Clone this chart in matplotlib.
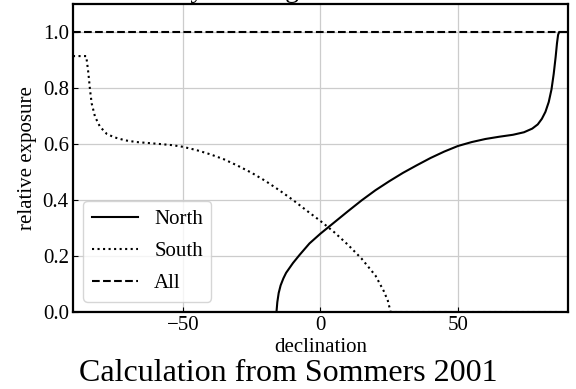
import numpy as np
import matplotlib
matplotlib.use("Agg")
import matplotlib.pyplot as plt

plt.rcParams["font.family"] = ["Liberation Serif", "DejaVu Serif"]
plt.rcParams["font.size"] = 15

# Relative exposure vs declination
north_dec = [-90, -16.0, -15.7, -15.2, -14.5, -13.5, -12.5, -10.0, -7.6, -4.0, 0.0,
             5.0, 10.0, 15.0, 20.0, 25.0, 30.0, 35.0, 40.0, 45.0, 50.0, 55.0, 60.0,
             65.0, 70.0, 74.0, 77.0, 79.0, 80.5, 81.8, 83.0, 84.0, 84.8, 85.5,
             86.0, 86.4, 86.8, 90]
north_exp = [0.0, 0.0, 0.035, 0.068, 0.095, 0.120, 0.140, 0.175, 0.204, 0.245, 0.280,
             0.320, 0.360, 0.399, 0.435, 0.467, 0.497, 0.524, 0.550, 0.573, 0.593, 0.607, 0.618,
             0.626, 0.633, 0.642, 0.655, 0.670, 0.690, 0.715, 0.750, 0.795, 0.850, 0.910,
             0.960, 0.990, 1.0, 1.0]

south_dec = [-90, -85.2, -84.8, -84.4, -83.8, -83.2, -82.0, -80.2, -77.7, -75.0, -71.0,
             -66.9, -62.0, -58.4, -54.0, -50.0, -45.0, -40.0, -35.0, -30.0, -25.0,
             -20.0, -15.0, -10.0, -5.0, 0.0, 5.0, 10.0, 15.0, 20.0, 23.0, 24.5,
             25.5, 90]
south_exp = [0.914, 0.914, 0.885, 0.853, 0.793, 0.745, 0.698, 0.662, 0.636, 0.624, 0.613,
             0.607, 0.603, 0.600, 0.596, 0.590, 0.578, 0.563, 0.545, 0.522, 0.497,
             0.468, 0.435, 0.400, 0.362, 0.325, 0.285, 0.240, 0.190, 0.130, 0.075, 0.040,
             0.0, 0.0]

all_dec = [-90, 90]
all_exp = [1.0, 1.0]

fig = plt.figure(figsize=(5.76, 3.89), dpi=100)
ax = fig.add_axes([0.1267, 0.1979, 0.8594, 0.7918])

ax.plot(north_dec, north_exp, color="k", ls="-", lw=1.5, label="North")
ax.plot(south_dec, south_exp, color="k", ls=":", lw=1.5, label="South")
ax.plot(all_dec, all_exp, color="k", ls="--", lw=1.5, label="All")

ax.set_xlim(-90, 90)
ax.set_ylim(0, 1.1)
ax.set_yticks(np.arange(0, 1.01, 0.2))
ax.set_xticks([-50, 0, 50])
ax.grid(True, color="#cccccc", lw=0.9)
ax.tick_params(direction="in", pad=3)
for sp in ax.spines.values():
    sp.set_linewidth(1.6)

ax.set_xlabel("declination", labelpad=2)
ax.set_ylabel("relative exposure")
# title sits above the top edge of the figure, only its descenders show
ax.set_title("Sky coverage vs. declination", fontsize=20, pad=4.7)
ax.legend(loc="lower left", handlelength=2.2, labelspacing=0.6)

fig.text(0.5, 0.003, "Calculation from Sommers 2001", ha="center", va="bottom", fontsize=23)

fig.savefig("out.png", dpi=100)
